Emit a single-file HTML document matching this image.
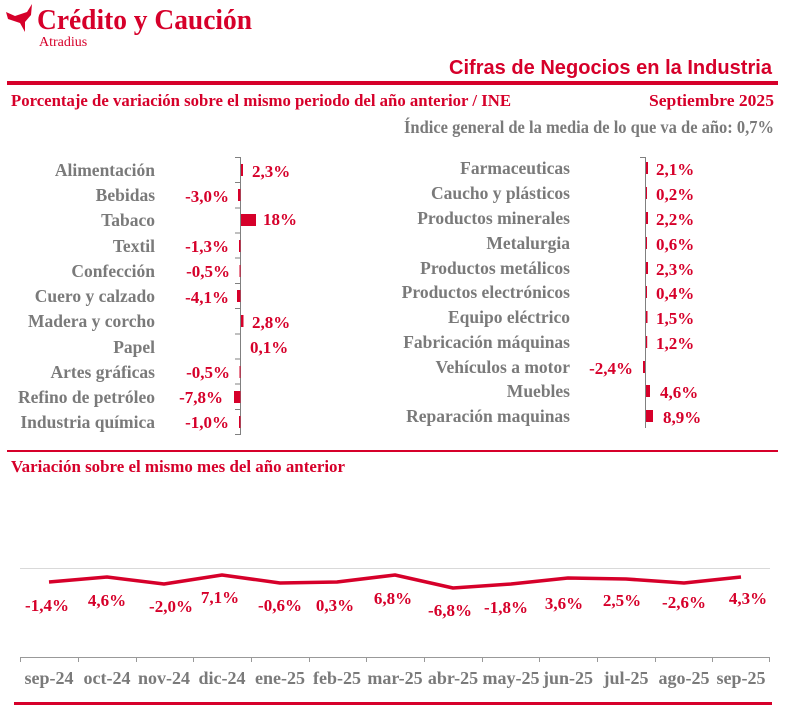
<!DOCTYPE html>
<html><head><meta charset="utf-8"><style>
html,body{margin:0;padding:0;background:#fff;}
svg{display:block;}
text{font-family:"Liberation Serif",serif;font-weight:bold;}
.g{fill:#7a7a7a;font-size:17.5px;}
.r{fill:#d6002a;font-size:17px;}
</style></head><body>
<svg width="786" height="713" viewBox="0 0 786 713" xmlns="http://www.w3.org/2000/svg">
<path d="M6 12 L15 16 L27 12 L32 4 L31 15 L25 22 L25 32 L20 23 L8 19 Z" fill="#d6002a"/>
<text x="37" y="29" fill="#d6002a" style="font-size:29px" textLength="215" lengthAdjust="spacingAndGlyphs">Crédito y Caución</text>
<text x="39" y="46" fill="#d6002a" style="font-size:14px;font-weight:normal">Atradius</text>
<text x="772" y="74" text-anchor="end" fill="#d6002a" style="font-family:'Liberation Sans',sans-serif;font-size:20px" textLength="323" lengthAdjust="spacingAndGlyphs">Cifras de Negocios en la Industria</text>
<rect x="7" y="81" width="771" height="4" fill="#d6002a"/>
<text x="11" y="106" class="r" textLength="500" lengthAdjust="spacingAndGlyphs">Porcentaje de variación sobre el mismo periodo del año anterior / INE</text>
<text x="774" y="106" text-anchor="end" class="r" textLength="125" lengthAdjust="spacingAndGlyphs">Septiembre 2025</text>
<text x="774" y="133" text-anchor="end" class="g" textLength="370" lengthAdjust="spacingAndGlyphs">Índice general de la media de lo que va de año:  0,7%</text>

<g>
<line x1="240.5" y1="157" x2="240.5" y2="435" stroke="#808080" stroke-width="1"/>
<g stroke="#808080" stroke-width="1">
<line x1="235" y1="157.5" x2="240" y2="157.5"/><line x1="235" y1="182.5" x2="240" y2="182.5"/><line x1="235" y1="208" x2="240" y2="208"/><line x1="235" y1="233" x2="240" y2="233"/><line x1="235" y1="258" x2="240" y2="258"/><line x1="235" y1="283.5" x2="240" y2="283.5"/><line x1="235" y1="308.5" x2="240" y2="308.5"/><line x1="235" y1="334" x2="240" y2="334"/><line x1="235" y1="359" x2="240" y2="359"/><line x1="235" y1="384" x2="240" y2="384"/><line x1="235" y1="409.5" x2="240" y2="409.5"/><line x1="235" y1="434.5" x2="240" y2="434.5"/>
</g>
<g class="g" text-anchor="end">
<text x="155" y="176">Alimentación</text>
<text x="155" y="201">Bebidas</text>
<text x="155" y="226">Tabaco</text>
<text x="155" y="252">Textil</text>
<text x="155" y="277">Confección</text>
<text x="155" y="302">Cuero y calzado</text>
<text x="155" y="327">Madera y corcho</text>
<text x="155" y="353">Papel</text>
<text x="155" y="378">Artes gráficas</text>
<text x="155" y="403">Refino de petróleo</text>
<text x="155" y="428">Industria química</text>
</g>
<g fill="#d6002a">
<rect x="241" y="164" width="2" height="12"/>
<rect x="238" y="189" width="2.5" height="12"/>
<rect x="241" y="214" width="15" height="12"/>
<rect x="239" y="240" width="1.5" height="12"/>
<rect x="239.5" y="265" width="1" height="12"/>
<rect x="237" y="290" width="3.5" height="12"/>
<rect x="241" y="315" width="2.5" height="12"/>
<rect x="239.5" y="366" width="1" height="12"/>
<rect x="234" y="391" width="6.5" height="12"/>
<rect x="239" y="416" width="1.5" height="12"/>
</g>
<g class="r">
<text x="252" y="177">2,3%</text>
<text x="229" y="202" text-anchor="end">-3,0%</text>
<text x="263" y="225">18%</text>
<text x="229" y="252" text-anchor="end">-1,3%</text>
<text x="230" y="277" text-anchor="end">-0,5%</text>
<text x="229" y="303" text-anchor="end">-4,1%</text>
<text x="252" y="328">2,8%</text>
<text x="250" y="353">0,1%</text>
<text x="230" y="378" text-anchor="end">-0,5%</text>
<text x="223" y="403" text-anchor="end">-7,8%</text>
<text x="229" y="428" text-anchor="end">-1,0%</text>
</g>
</g>

<g>
<line x1="645.5" y1="157" x2="645.5" y2="428" stroke="#808080" stroke-width="1"/>
<line x1="640" y1="157.5" x2="645" y2="157.5" stroke="#808080"/>
<g class="g" text-anchor="end">
<text x="570" y="174">Farmaceuticas</text>
<text x="570" y="199">Caucho y plásticos</text>
<text x="570" y="224">Productos minerales</text>
<text x="570" y="249">Metalurgia</text>
<text x="570" y="274">Productos metálicos</text>
<text x="570" y="298">Productos electrónicos</text>
<text x="570" y="323">Equipo eléctrico</text>
<text x="570" y="348">Fabricación máquinas</text>
<text x="570" y="373">Vehículos a motor</text>
<text x="570" y="397">Muebles</text>
<text x="570" y="422">Reparación maquinas</text>
</g>
<g fill="#d6002a">
<rect x="646" y="162" width="2" height="12"/>
<rect x="646" y="187" width="1" height="12"/>
<rect x="646" y="212" width="2" height="12"/>
<rect x="646" y="237" width="1" height="12"/>
<rect x="646" y="262" width="2" height="12"/>
<rect x="646" y="286" width="1" height="12"/>
<rect x="646" y="311" width="1.5" height="12"/>
<rect x="646" y="336" width="1.2" height="12"/>
<rect x="643" y="361" width="2" height="12"/>
<rect x="646" y="385" width="4" height="12"/>
<rect x="646" y="410" width="7" height="12"/>
</g>
<g class="r">
<text x="656" y="175">2,1%</text>
<text x="656" y="200">0,2%</text>
<text x="656" y="225">2,2%</text>
<text x="656" y="250">0,6%</text>
<text x="656" y="275">2,3%</text>
<text x="656" y="299">0,4%</text>
<text x="656" y="324">1,5%</text>
<text x="656" y="349">1,2%</text>
<text x="633" y="374" text-anchor="end">-2,4%</text>
<text x="660" y="398">4,6%</text>
<text x="663" y="423">8,9%</text>
</g>
</g>

<rect x="7" y="450" width="771" height="2" fill="#d6002a"/>
<text x="11" y="472" class="r" textLength="334" lengthAdjust="spacingAndGlyphs">Variación sobre el mismo mes del año anterior</text>

<line x1="20" y1="568.5" x2="770" y2="568.5" stroke="#d9d9d9" stroke-width="1"/>
<polyline fill="none" stroke="#d6002a" stroke-width="3.5" stroke-linejoin="round" points="49,582 107,577 164,584 222,575 280,583 337,582 395,575 453,588 511,584 568,578 626,579 684,583 741,577"/>
<g class="r" text-anchor="middle">
<text x="47" y="611">-1,4%</text>
<text x="107" y="606">4,6%</text>
<text x="171" y="612">-2,0%</text>
<text x="220" y="603">7,1%</text>
<text x="280" y="611">-0,6%</text>
<text x="335" y="611">0,3%</text>
<text x="393" y="604">6,8%</text>
<text x="450" y="616">-6,8%</text>
<text x="506" y="613">-1,8%</text>
<text x="564" y="609">3,6%</text>
<text x="622" y="606">2,5%</text>
<text x="684" y="608">-2,6%</text>
<text x="748" y="604">4,3%</text>
</g>
<line x1="20" y1="657.5" x2="770" y2="657.5" stroke="#999" stroke-width="1"/>
<g stroke="#999" stroke-width="1">
<line x1="20.5" y1="657" x2="20.5" y2="662"/><line x1="78.5" y1="657" x2="78.5" y2="662"/><line x1="136.5" y1="657" x2="136.5" y2="662"/><line x1="193.5" y1="657" x2="193.5" y2="662"/><line x1="251.5" y1="657" x2="251.5" y2="662"/><line x1="309.5" y1="657" x2="309.5" y2="662"/><line x1="366.5" y1="657" x2="366.5" y2="662"/><line x1="424.5" y1="657" x2="424.5" y2="662"/><line x1="482.5" y1="657" x2="482.5" y2="662"/><line x1="539.5" y1="657" x2="539.5" y2="662"/><line x1="597.5" y1="657" x2="597.5" y2="662"/><line x1="655.5" y1="657" x2="655.5" y2="662"/><line x1="712.5" y1="657" x2="712.5" y2="662"/><line x1="769.5" y1="657" x2="769.5" y2="662"/>
</g>
<g class="g" text-anchor="middle" style="font-size:18px">
<text x="49" y="684">sep-24</text>
<text x="107" y="684">oct-24</text>
<text x="164" y="684">nov-24</text>
<text x="222" y="684">dic-24</text>
<text x="280" y="684">ene-25</text>
<text x="337" y="684">feb-25</text>
<text x="395" y="684">mar-25</text>
<text x="453" y="684">abr-25</text>
<text x="511" y="684">may-25</text>
<text x="568" y="684">jun-25</text>
<text x="626" y="684">jul-25</text>
<text x="684" y="684">ago-25</text>
<text x="741" y="684">sep-25</text>
</g>
<rect x="14" y="702" width="758" height="3" fill="#d6002a"/>
</svg>
</body></html>
